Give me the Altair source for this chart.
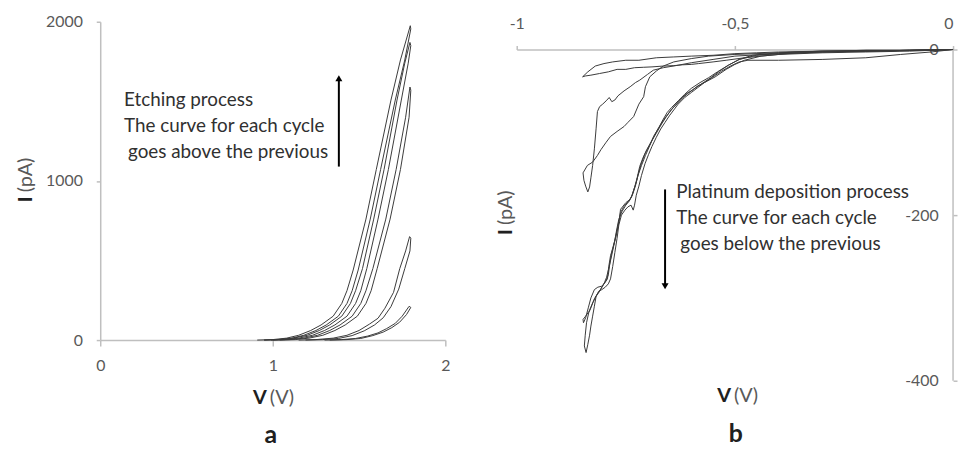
import altair as alt
import pandas as pd

FONT = "Lato"
AXIS_GREY = "#bfbfbf"
LABEL_GREY = "#595959"
LINE = "#3a3a3a"
TEXT = "#303030"

# ---------------- Panel a: etching, V (V) vs I (pA); each cycle = rising then falling sweep
a_cycle1 = [(1.30, 0), (1.40, 3), (1.48, 10), (1.55, 25), (1.61, 45), (1.66, 72), (1.71, 105),
            (1.75, 150), (1.79, 212), (1.80, 205), (1.775, 160), (1.735, 112), (1.69, 78),
            (1.64, 50), (1.58, 28), (1.51, 10), (1.43, 3), (1.33, 0)]
a_cycle2 = [(1.15, 0), (1.25, 3), (1.35, 12), (1.43, 30), (1.50, 60), (1.56, 100), (1.61, 137),
            (1.65, 200), (1.70, 300), (1.736, 449), (1.77, 560), (1.793, 650), (1.80, 640),
            (1.795, 560), (1.765, 449), (1.73, 320), (1.685, 210), (1.64, 140), (1.59, 95),
            (1.53, 58), (1.46, 28), (1.38, 10), (1.29, 3), (1.19, 0)]
a_cycle3 = [(1.00, 0), (1.10, 3), (1.18, 12), (1.26, 30), (1.33, 60), (1.39, 95), (1.46, 150),
            (1.51, 230), (1.54, 310), (1.58, 449), (1.655, 760), (1.715, 1072), (1.77, 1400),
            (1.795, 1590), (1.80, 1570), (1.79, 1400), (1.74, 1072), (1.68, 760), (1.605, 449),
            (1.57, 310), (1.54, 230), (1.49, 150), (1.42, 95), (1.36, 60), (1.29, 30),
            (1.21, 12), (1.13, 3), (1.04, 0)]
a_cycle4 = [(0.95, 0), (1.04, 3), (1.12, 12), (1.20, 30), (1.27, 60), (1.33, 95), (1.40, 150),
            (1.45, 230), (1.48, 310), (1.52, 449), (1.585, 760), (1.645, 1072), (1.72, 1508),
            (1.765, 1740), (1.795, 1870), (1.80, 1850), (1.785, 1740), (1.745, 1508),
            (1.67, 1072), (1.61, 760), (1.545, 449), (1.51, 310), (1.48, 230), (1.43, 150),
            (1.36, 95), (1.30, 60), (1.23, 30), (1.15, 12), (1.07, 3), (0.99, 0)]
a_cycle5 = [(0.91, 0), (1.00, 3), (1.08, 12), (1.15, 30), (1.22, 60), (1.28, 95), (1.35, 150),
            (1.40, 230), (1.43, 310), (1.466, 440), (1.54, 760), (1.60, 1072), (1.685, 1508),
            (1.74, 1760), (1.797, 1975), (1.80, 1955), (1.765, 1760), (1.71, 1508),
            (1.625, 1072), (1.565, 760), (1.495, 440), (1.46, 310), (1.43, 230), (1.38, 150),
            (1.31, 95), (1.25, 60), (1.18, 30), (1.11, 12), (1.03, 3), (0.95, 0)]

# ---------------- Panel b: platinum deposition, V (V) vs I (pA)
b_cycle1 = [(0, 0), (-0.10, -1), (-0.20, -1), (-0.30, -2), (-0.40, -3), (-0.45, -4), (-0.50, -5),
            (-0.55, -7), (-0.60, -8), (-0.64, -9), (-0.68, -10), (-0.72, -13), (-0.75, -13),
            (-0.78, -15), (-0.80, -17), (-0.82, -20), (-0.837, -27), (-0.849, -33), (-0.843, -32),
            (-0.83, -31), (-0.81, -29), (-0.79, -27), (-0.77, -24), (-0.75, -24), (-0.73, -22),
            (-0.71, -21.5), (-0.69, -21), (-0.664, -20), (-0.64, -19.5), (-0.62, -18.5),
            (-0.60, -18), (-0.583, -17), (-0.55, -15), (-0.52, -13), (-0.478, -10), (-0.44, -8),
            (-0.40, -6), (-0.30, -4), (-0.20, -3), (-0.10, -2), (0, 0)]
b_cycle2 = [(0, 0), (-0.10, -1), (-0.20, -2), (-0.30, -2), (-0.40, -4), (-0.50, -6), (-0.56, -8),
            (-0.60, -11), (-0.64, -15), (-0.664, -20), (-0.68, -26), (-0.695, -33), (-0.705, -45),
            (-0.709, -57), (-0.72, -66), (-0.732, -81), (-0.745, -88), (-0.754, -93), (-0.77, -99),
            (-0.785, -105), (-0.795, -112), (-0.807, -121), (-0.815, -128), (-0.826, -136),
            (-0.838, -140), (-0.848, -149), (-0.846, -158), (-0.842, -165), (-0.837, -172),
            (-0.833, -166), (-0.830, -155), (-0.826, -140), (-0.822, -120), (-0.818, -95),
            (-0.815, -75), (-0.81, -69), (-0.803, -66), (-0.795, -62), (-0.788, -58),
            (-0.782, -63), (-0.775, -61), (-0.768, -56), (-0.754, -50), (-0.74, -45),
            (-0.728, -40), (-0.718, -37), (-0.70, -30), (-0.687, -25), (-0.664, -22),
            (-0.63, -19), (-0.60, -16), (-0.55, -12), (-0.50, -8), (-0.40, -5), (-0.30, -3),
            (-0.20, -2), (-0.10, -1), (0, 0)]
b_cycle3 = [(0, 0), (-0.10, -1), (-0.20, -1), (-0.30, -2), (-0.40, -4), (-0.46, -7), (-0.49, -12),
            (-0.515, -19), (-0.54, -27), (-0.56, -34), (-0.58, -40), (-0.60, -47), (-0.615, -54),
            (-0.63, -62), (-0.645, -70), (-0.655, -76), (-0.665, -85), (-0.675, -95),
            (-0.686, -105), (-0.696, -116), (-0.706, -126), (-0.714, -137), (-0.72, -148),
            (-0.726, -160), (-0.732, -170), (-0.737, -178), (-0.745, -184), (-0.755, -190),
            (-0.762, -197), (-0.767, -212), (-0.772, -225), (-0.778, -237), (-0.783, -247),
            (-0.787, -260), (-0.79, -272), (-0.796, -280), (-0.804, -286), (-0.81, -292),
            (-0.818, -298), (-0.826, -306), (-0.834, -316), (-0.842, -322), (-0.848, -326),
            (-0.847, -330), (-0.842, -324), (-0.836, -312), (-0.83, -300), (-0.822, -290),
            (-0.814, -287), (-0.806, -286), (-0.80, -283), (-0.794, -275), (-0.788, -262),
            (-0.782, -248), (-0.776, -233), (-0.771, -218), (-0.766, -205), (-0.759, -196),
            (-0.75, -188), (-0.742, -183), (-0.735, -176), (-0.728, -165), (-0.722, -152),
            (-0.714, -140), (-0.705, -128), (-0.695, -116), (-0.685, -104), (-0.674, -94),
            (-0.662, -84), (-0.65, -76), (-0.638, -68), (-0.625, -61), (-0.61, -54),
            (-0.595, -48), (-0.575, -41), (-0.555, -34), (-0.535, -26), (-0.515, -19),
            (-0.49, -12), (-0.45, -7), (-0.40, -5), (-0.30, -3), (-0.20, -2), (-0.10, -1), (0, 0)]
b_cycle4 = [(0, 0), (-0.10, -1), (-0.20, -2), (-0.30, -3), (-0.38, -5), (-0.44, -8), (-0.478, -13),
            (-0.50, -18), (-0.52, -24), (-0.545, -33), (-0.57, -40), (-0.585, -44), (-0.597, -49),
            (-0.61, -53), (-0.62, -58), (-0.635, -67), (-0.645, -72), (-0.657, -81),
            (-0.668, -90), (-0.68, -101), (-0.69, -110), (-0.702, -121), (-0.71, -130),
            (-0.718, -141), (-0.724, -155), (-0.729, -165), (-0.735, -175), (-0.74, -181),
            (-0.75, -185), (-0.762, -193), (-0.765, -205), (-0.77, -218), (-0.775, -230),
            (-0.78, -240), (-0.785, -249), (-0.789, -262), (-0.792, -277), (-0.80, -283),
            (-0.807, -289), (-0.815, -295), (-0.822, -301), (-0.83, -312), (-0.835, -318),
            (-0.84, -330), (-0.843, -345), (-0.845, -358), (-0.841, -366), (-0.837, -356),
            (-0.833, -345), (-0.83, -334), (-0.826, -322), (-0.822, -310), (-0.818, -298),
            (-0.812, -292), (-0.805, -290), (-0.797, -287), (-0.79, -283), (-0.785, -277),
            (-0.78, -262), (-0.775, -245), (-0.77, -228), (-0.766, -212), (-0.76, -200),
            (-0.752, -194), (-0.745, -190), (-0.738, -188), (-0.733, -194), (-0.73, -188),
            (-0.726, -176), (-0.72, -165), (-0.714, -152), (-0.706, -138), (-0.698, -127),
            (-0.69, -117), (-0.68, -106), (-0.67, -96), (-0.66, -88), (-0.65, -80),
            (-0.64, -73), (-0.63, -66), (-0.615, -58), (-0.60, -52), (-0.585, -46),
            (-0.57, -40), (-0.55, -33), (-0.53, -26), (-0.51, -20), (-0.49, -15), (-0.47, -13),
            (-0.40, -13), (-0.30, -12), (-0.20, -10), (-0.12, -6), (-0.05, -3), (0, 0)]

a_ticks_x = [0, 1, 2]
a_ticks_y = [0, 1000, 2000]
b_ticks_x = [-1, -0.5, 0]
b_ticks_y = [-400, -200, 0]
a_arrow = [(1.383, 1090), (1.383, 1645)]   # tail, head
b_arrow = [(-0.66, -169), (-0.66, -286)]
b_yaxis_line = [(0, 0), (0, -400)]
a_note = ["Etching process", "The curve for each cycle", "goes above the previous"]
b_note = ["Platinum deposition process", "The curve for each cycle", "goes below the previous"]


def to_df(cycles):
    rows = []
    for name, pts in cycles.items():
        for k, (v, i) in enumerate(pts):
            rows.append({"cycle": name, "k": k, "V": v, "I": i})
    return pd.DataFrame(rows)


df_a = to_df({"1": a_cycle1, "2": a_cycle2, "3": a_cycle3, "4": a_cycle4, "5": a_cycle5})
df_b = to_df({"1": b_cycle1, "2": b_cycle2, "3": b_cycle3, "4": b_cycle4})
one = pd.DataFrame({"o": [0]})


def txt(text, x, y, size, color, weight="normal", align="left", angle=0):
    return alt.Chart(one).mark_text(
        text=text, fontSize=size, font=FONT, color=color, fontWeight=weight,
        align=align, baseline="middle", angle=angle
    ).encode(x=alt.value(x), y=alt.value(y))


def arrow(pts, shape, x, y):
    d = to_df({"arrow": pts})
    line = alt.Chart(d).mark_line(color="black", strokeWidth=2).encode(x=x, y=y, order="k:Q")
    head = alt.Chart(d.tail(1)).mark_point(shape=shape, filled=True, color="black", size=50,
                                          opacity=1, strokeWidth=0).encode(x=x, y=y)
    return [line, head]


axis_common = dict(grid=False, domainColor=AXIS_GREY, tickColor=AXIS_GREY, labelColor=LABEL_GREY,
                   labelFont=FONT, labelFontSize=16, title=None, domainWidth=1.5, tickWidth=1.5,
                   labelOverlap=False, labelFlush=False, labelExpr="toString(datum.value)")
no_box = alt.ViewBackground(stroke="transparent", strokeWidth=0)

# ---------------- panel a
A_W, A_H = 348, 321
xa = alt.X("V:Q", scale=alt.Scale(domain=[0, 2], nice=False, zero=False),
           axis=alt.Axis(values=a_ticks_x, tickCount=3, tickSize=6, labelPadding=12, **axis_common))
ya = alt.Y("I:Q", scale=alt.Scale(domain=[0, 2000], nice=False, zero=False),
           axis=alt.Axis(values=a_ticks_y, tickCount=3, tickSize=4, labelPadding=14, **axis_common))
lines_a = alt.Chart(df_a).mark_line(color=LINE, strokeWidth=1).encode(
    x=xa, y=ya, detail="cycle:N", order="k:Q")
panel_a = alt.layer(
    lines_a, *arrow(a_arrow, "triangle-up", xa, ya),
    txt(a_note[0], 24, 79, 19, TEXT), txt(a_note[1], 24, 105, 19, TEXT), txt(a_note[2], 28, 131, 19, TEXT),
    txt("V", 168, 379, 20, "#202020", "bold", "right"), txt("(V)", 171, 379, 20, LABEL_GREY),
    txt("I", -75, 176, 20, "#202020", "bold", "right", 270), txt("(pA)", -75, 172, 20, LABEL_GREY, "normal", "left", 270),
    txt("a", 172, 417, 25, "#202020", "bold", "center"),
).properties(width=A_W, height=A_H, view=no_box)

# ---------------- panel b
B_W, B_H = 440, 362
b_axis_common = dict(axis_common)
b_axis_common["labelExpr"] = "replace(toString(datum.value), '.', ',')"
xb = alt.X("V:Q", scale=alt.Scale(domain=[-1, 0], nice=False, zero=False),
           axis=alt.Axis(orient="top", offset=-28, values=b_ticks_x, tickCount=3, tickSize=4, labelPadding=14,
                         labelAlign={"expr": "datum.value == 0 ? 'right' : 'center'"}, **b_axis_common))
yb = alt.Y("I:Q", scale=alt.Scale(domain=[-400, 33.5], nice=False, zero=False),
           axis=alt.Axis(orient="right", values=b_ticks_y, tickCount=3, tickSize=4, labelPadding=-19,
                         labelAlign="right", domain=False, **b_axis_common))
lines_b = alt.Chart(df_b).mark_line(color=LINE, strokeWidth=1).encode(
    x=xb, y=yb, detail="cycle:N", order="k:Q")
yaxis_b = alt.Chart(to_df({"axis": b_yaxis_line})).mark_line(color=AXIS_GREY, strokeWidth=1.5).encode(
    x=xb, y=yb, order="k:Q")
panel_b = alt.layer(
    yaxis_b, lines_b, *arrow(b_arrow, "triangle-down", xb, yb),
    txt(b_note[0], 161, 172, 19, TEXT), txt(b_note[1], 161, 198, 19, TEXT), txt(b_note[2], 165, 224, 19, TEXT),
    txt("V", 216, 377, 20, "#202020", "bold", "right"), txt("(V)", 219, 377, 20, LABEL_GREY),
    txt("I", -11, 209, 20, "#202020", "bold", "right", 270), txt("(pA)", -11, 205, 20, LABEL_GREY, "normal", "left", 270),
    txt("b", 221, 416, 25, "#202020", "bold", "center"),
).properties(width=B_W, height=B_H, view=no_box)

chart = alt.hconcat(panel_a, panel_b, spacing=46).configure_view(
    strokeWidth=0, strokeOpacity=0).configure(background="white").properties(
    padding={"left": 8, "top": 4, "right": 0, "bottom": 0})
chart.save("out.html", embed_options={"renderer": "svg", "actions": False})
